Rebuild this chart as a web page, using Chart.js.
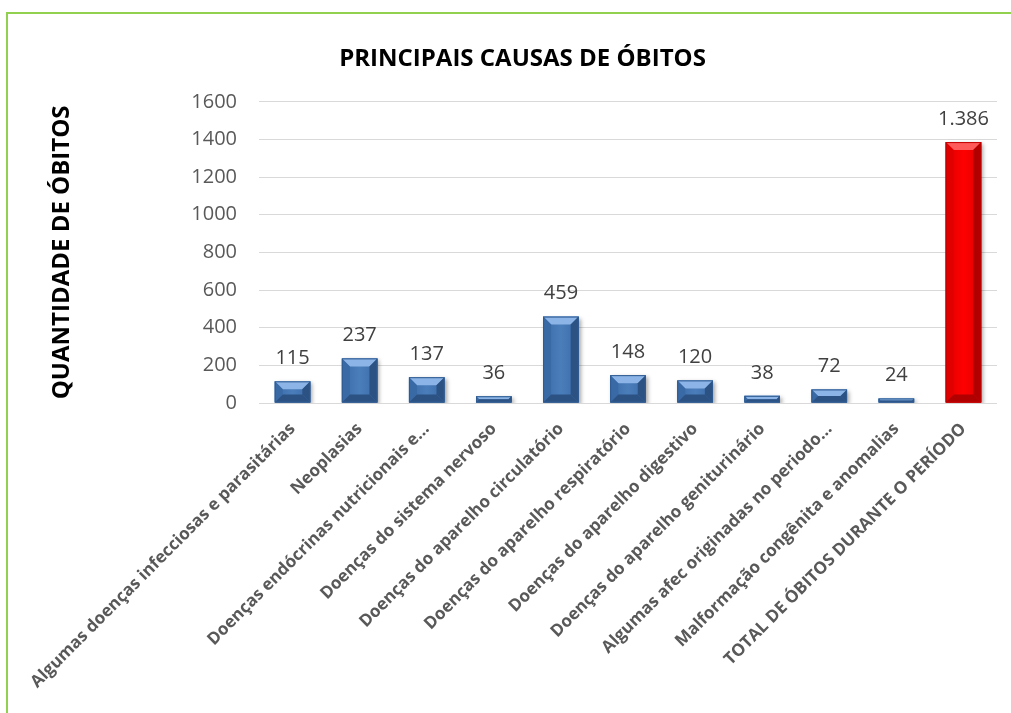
<!DOCTYPE html>
<html>
<head>
<meta charset="utf-8">
<script src="https://cdn.jsdelivr.net/npm/chart.js@4"></script>
<style>
  html, body { margin:0; padding:0; background:#fff; overflow:hidden; }
  #wrap { position:relative; width:1011px; height:713px; overflow:hidden; }
  #frame { position:absolute; left:6px; top:12px; width:1100px; height:800px; border:2.5px solid #92d050; box-sizing:border-box; }
  canvas { position:absolute; left:0; top:0; }
</style>
</head>
<body>
<div id="wrap">
  <div id="frame"></div>
  <canvas id="c" width="1011" height="713"></canvas>
</div>
<script>
const titleText = "PRINCIPAIS CAUSAS DE ÓBITOS";
const yAxisTitle = "QUANTIDADE DE ÓBITOS";
const categories = [
  "Algumas doenças infecciosas e parasitárias",
  "Neoplasias",
  "Doenças endócrinas nutricionais e…",
  "Doenças do sistema nervoso",
  "Doenças do aparelho circulatório",
  "Doenças do aparelho respiratório",
  "Doenças do aparelho digestivo",
  "Doenças do aparelho geniturinário",
  "Algumas afec originadas no periodo…",
  "Malformação congênita e anomalias",
  "TOTAL DE ÓBITOS DURANTE O PERÍODO"
];
const values = [115, 237, 137, 36, 459, 148, 120, 38, 72, 24, 1386];
const yTicks = [0, 200, 400, 600, 800, 1000, 1200, 1400, 1600];
const barColors = ["blue","blue","blue","blue","blue","blue","blue","blue","blue","blue","red"];

const palette = {
  blue: { main:"#4a7ebb", light:"#8cb4e6", side:"#3a6aa6", dark:"#2c5284", edge:"#2f5b91" },
  red:  { main:"#fe0000", light:"#ff5a5a", side:"#e00000", dark:"#b00000", edge:"#c00000" }
};

function fmt(v){ return String(v).replace(/\B(?=(\d{3})+(?!\d))/g, "."); }

const bevelPlugin = {
  id: "bevel",
  beforeDatasetsDraw(chart){
    const ctx = chart.ctx;
    ctx.save();
    ctx.shadowColor = "rgba(0,0,0,0.35)";
    ctx.shadowBlur = 4;
    ctx.shadowOffsetX = 2;
    ctx.shadowOffsetY = 2;
  },
  afterDatasetsDraw(chart){
    const ctx = chart.ctx;
    ctx.restore();
    const meta = chart.getDatasetMeta(0);
    meta.data.forEach((bar, i) => {
      const p = palette[barColors[i]];
      const l = bar.x - bar.width/2, r = bar.x + bar.width/2;
      const t = bar.y, b = bar.base;
      const h = b - t;
      const bv = Math.min(8, h/2);
      ctx.save();
      const g = ctx.createLinearGradient(l, 0, r, 0);
      g.addColorStop(0, p.side); g.addColorStop(0.5, p.main); g.addColorStop(1, p.side);
      ctx.fillStyle = g;
      ctx.fillRect(l, t, r-l, h);
      ctx.fillStyle = p.light;
      ctx.beginPath();
      ctx.moveTo(l, t); ctx.lineTo(r, t); ctx.lineTo(r-bv, t+bv); ctx.lineTo(l+bv, t+bv); ctx.closePath(); ctx.fill();
      ctx.fillStyle = p.side;
      ctx.beginPath();
      ctx.moveTo(l, t); ctx.lineTo(l+bv, t+bv); ctx.lineTo(l+bv, b-bv); ctx.lineTo(l, b); ctx.closePath(); ctx.fill();
      ctx.fillStyle = p.dark;
      ctx.beginPath();
      ctx.moveTo(r, t); ctx.lineTo(r-bv, t+bv); ctx.lineTo(r-bv, b-bv); ctx.lineTo(r, b); ctx.closePath(); ctx.fill();
      ctx.fillStyle = p.dark;
      ctx.beginPath();
      ctx.moveTo(l, b); ctx.lineTo(l+bv, b-bv); ctx.lineTo(r-bv, b-bv); ctx.lineTo(r, b); ctx.closePath(); ctx.fill();
      ctx.strokeStyle = p.edge; ctx.lineWidth = 1;
      ctx.strokeRect(l+0.5, t+0.5, r-l-1, h-1);
      ctx.fillStyle = "#404040";
      ctx.font = "20px 'Open Sans'";
      ctx.textAlign = "center";
      ctx.textBaseline = "middle";
      ctx.fillText(fmt(values[i]), bar.x, t - 23);
      ctx.restore();
    });
  }
};

new Chart(document.getElementById("c"), {
  type: "bar",
  data: {
    labels: categories,
    datasets: [{
      data: values,
      backgroundColor: barColors.map(c => palette[c].main),
      borderWidth: 0,
      categoryPercentage: 1.0,
      barPercentage: 0.53
    }]
  },
  options: {
    responsive: false,
    animation: false,
    layout: { padding: { left: 48, right: 14, top: 20, bottom: 0 } },
    plugins: {
      legend: { display: false },
      tooltip: { enabled: false },
      title: {
        display: true,
        text: titleText,
        color: "#000",
        font: { family: "'Open Sans'", size: 24, weight: "bold" },
        padding: { top: 25, bottom: 28 }
      }
    },
    scales: {
      x: {
        grid: { display: false },
        border: { display: false },
        ticks: {
          color: "#595959",
          font: { family: "'Open Sans'", size: 17, weight: "bold" },
          minRotation: 45, maxRotation: 45,
          autoSkip: false,
          padding: 8
        },
        afterFit(scale){ scale.height = 310; }
      },
      y: {
        min: 0, max: 1600,
        afterBuildTicks(scale){ scale.ticks = yTicks.map(v => ({ value: v })); },
        grid: { color: "#d9d9d9", lineWidth: 1, drawTicks: false },
        border: { display: false },
        ticks: {
          color: "#595959",
          font: { family: "'Open Sans'", size: 20 },
          padding: 22,
          callback: v => String(v)
        },
        title: {
          display: true,
          text: yAxisTitle,
          color: "#000",
          font: { family: "'Open Sans'", size: 24, weight: "bold" },
          padding: 0
        },
        afterFit(scale){ scale.width = 211; }
      }
    }
  },
  plugins: [bevelPlugin]
});
</script>
</body>
</html>
